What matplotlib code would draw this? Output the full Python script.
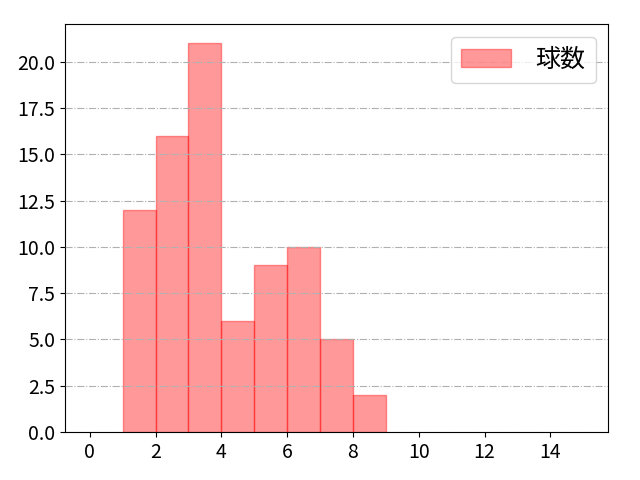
import matplotlib
matplotlib.use("Agg")
import matplotlib.pyplot as plt

plt.rcParams['font.family'] = ['Noto Sans CJK JP', 'DejaVu Sans']

# 球数ヒストグラム（区間の左端と件数）
bin_left = [1, 2, 3, 4, 5, 6, 7, 8]
counts = [12, 16, 21, 6, 9, 10, 5, 2]
label = "球数"
yticks = [0, 2.5, 5, 7.5, 10, 12.5, 15, 17.5, 20]

fig = plt.figure(figsize=(6.4, 4.8), dpi=100)
ax = fig.add_axes([0.1016, 0.1, 0.8484, 0.85])

ax.bar(bin_left, counts, width=1, align='edge', color='#ff0000', alpha=0.4,
       edgecolor='#ff0000', linewidth=1, label=label, zorder=1)

ax.set_xlim(-0.75, 15.75)
ax.set_ylim(0, 22.05)
ax.set_xticks(range(0, 15, 2))
ax.set_yticks(yticks)
ax.set_yticklabels([f"{v:.1f}" for v in yticks])
ax.tick_params(labelsize=14)
ax.set_axisbelow(False)
ax.yaxis.grid(True, linestyle='-.', color='#b0b0b0', linewidth=0.8, zorder=3)

ax.legend(loc='upper right', fontsize=18, handletextpad=1.0)

fig.savefig("out.png", dpi=100)
